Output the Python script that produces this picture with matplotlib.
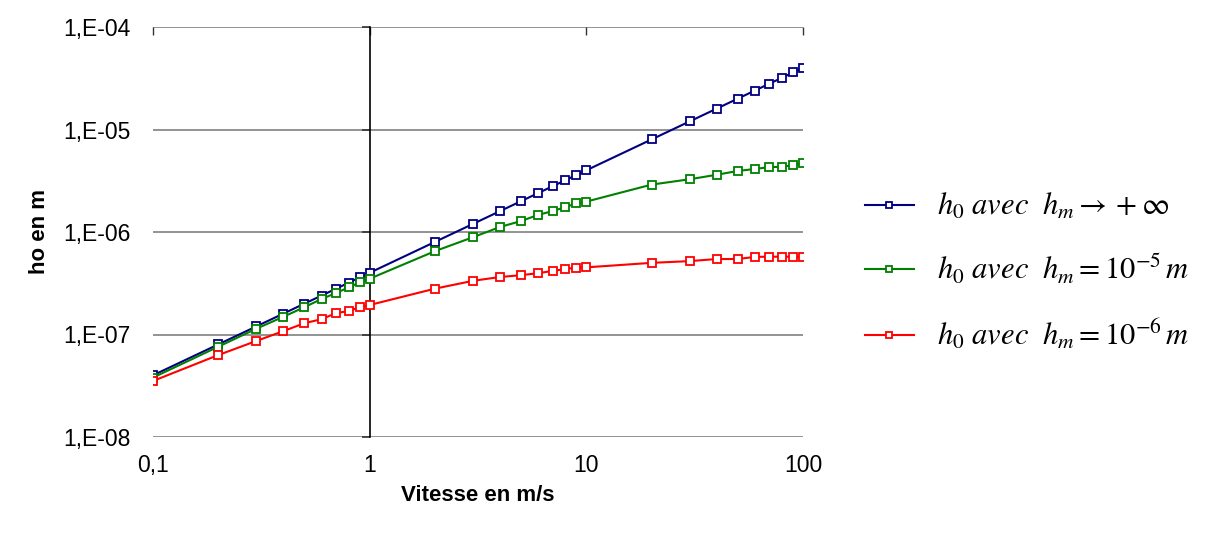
import numpy as np
import matplotlib.pyplot as plt
from matplotlib.ticker import FixedLocator, FixedFormatter, NullLocator

plt.rcParams['font.family'] = ['Liberation Sans', 'DejaVu Sans']
plt.rcParams['mathtext.fontset'] = 'stix'

# --- DONNÉES ---
vitesse = [0.1, 0.2, 0.3, 0.4, 0.5, 0.6, 0.7, 0.8, 0.9, 1,
           2, 3, 4, 5, 6, 7, 8, 9, 10,
           20, 30, 40, 50, 60, 70, 80, 90, 100]

h0_inf = [4.0e-8, 8.0e-8, 1.2e-7, 1.6e-7, 2.0e-7, 2.4e-7, 2.8e-7, 3.2e-7, 3.6e-7, 4.0e-7,
          8.0e-7, 1.2e-6, 1.6e-6, 2.0e-6, 2.4e-6, 2.8e-6, 3.2e-6, 3.6e-6, 4.0e-6,
          8.0e-6, 1.2e-5, 1.6e-5, 2.0e-5, 2.4e-5, 2.8e-5, 3.2e-5, 3.6e-5, 4.0e-5]

h0_e5 = [3.8e-8, 7.6e-8, 1.14e-7, 1.49e-7, 1.85e-7, 2.22e-7, 2.54e-7, 2.88e-7, 3.23e-7, 3.5e-7,
         6.5e-7, 8.9e-7, 1.12e-6, 1.28e-6, 1.47e-6, 1.6e-6, 1.75e-6, 1.9e-6, 1.98e-6,
         2.9e-6, 3.27e-6, 3.62e-6, 3.94e-6, 4.12e-6, 4.3e-6, 4.32e-6, 4.5e-6, 4.68e-6]

h0_e6 = [3.52e-8, 6.3e-8, 8.65e-8, 1.08e-7, 1.29e-7, 1.41e-7, 1.62e-7, 1.69e-7, 1.85e-7, 1.94e-7,
         2.8e-7, 3.34e-7, 3.64e-7, 3.79e-7, 3.97e-7, 4.17e-7, 4.35e-7, 4.5e-7, 4.52e-7,
         5.0e-7, 5.2e-7, 5.45e-7, 5.45e-7, 5.72e-7, 5.74e-7, 5.74e-7, 5.74e-7, 5.74e-7]

x_ticks = [0.1, 1, 10, 100]
x_labels = ['0,1', '1', '10', '100']
y_ticks = [1e-8, 1e-7, 1e-6, 1e-5, 1e-4]
y_labels = ['1,E-08', '1,E-07', '1,E-06', '1,E-05', '1,E-04']

labels = [r'$h_0\ avec\ \ h_m \rightarrow +\infty$',
          r'$h_0\ avec\ \ h_m = 10^{-5}\,m$',
          r'$h_0\ avec\ \ h_m = 10^{-6}\,m$']
couleurs = ['#000080', '#008000', '#FF0000']

# --- FIGURE ---
fig = plt.figure(figsize=(12.05, 5.34), dpi=100)
ax = fig.add_axes([153/1205, 1-437/534, 650/1205, 410/534])

for serie, c, lab in zip([h0_inf, h0_e5, h0_e6], couleurs, labels):
    ax.plot(vitesse, serie, '-s', color=c, lw=1.5, ms=5.5, mfc='white',
            mew=1.3, label=lab, zorder=3)

ax.set_xscale('log')
ax.set_yscale('log')
ax.set_xlim(0.1, 100)
ax.set_ylim(1e-8, 1e-4)

# grille horizontale
for yv in y_ticks:
    ax.axhline(yv, color='#808080', lw=1.2, zorder=1)

for s in ['top', 'bottom', 'right']:
    ax.spines[s].set_visible(False)
# axe vertical qui coupe à x = 1
ax.spines['left'].set_position(('data', 1))
ax.spines['left'].set_color('black')
ax.spines['left'].set_linewidth(1.2)
ax.yaxis.set_major_locator(FixedLocator(y_ticks))
ax.yaxis.set_minor_locator(NullLocator())
ax.tick_params(axis='y', which='major', direction='out', length=6, width=1.2,
               color='#333333', labelleft=False)

ax.xaxis.set_major_locator(FixedLocator(x_ticks))
ax.xaxis.set_major_formatter(FixedFormatter(x_labels))
ax.xaxis.set_minor_locator(NullLocator())
ax.tick_params(axis='x', which='major', top=True, bottom=False, direction='in',
               length=6, width=1, color='#333333', labelsize=16.5, pad=12)

# étiquettes de l'axe y à gauche
sec = ax.secondary_yaxis(0)
sec.set_yticks(y_ticks)
sec.set_yticklabels(y_labels)
sec.yaxis.set_minor_locator(NullLocator())
sec.spines['left'].set_visible(False)
sec.tick_params(axis='y', length=0, labelsize=16.5, pad=16)

ax.set_xlabel('Vitesse en m/s', fontsize=16, fontweight='bold', labelpad=6)
sec.set_ylabel('ho en m', fontsize=16, fontweight='bold', labelpad=10)

fig.legend(loc='center left', bbox_to_anchor=(0.695, 0.49), frameon=False,
           fontsize=22, handlelength=1.6, labelspacing=1.0, handletextpad=0.75,
           markerscale=0.8)

fig.savefig('out.png', dpi=100)
